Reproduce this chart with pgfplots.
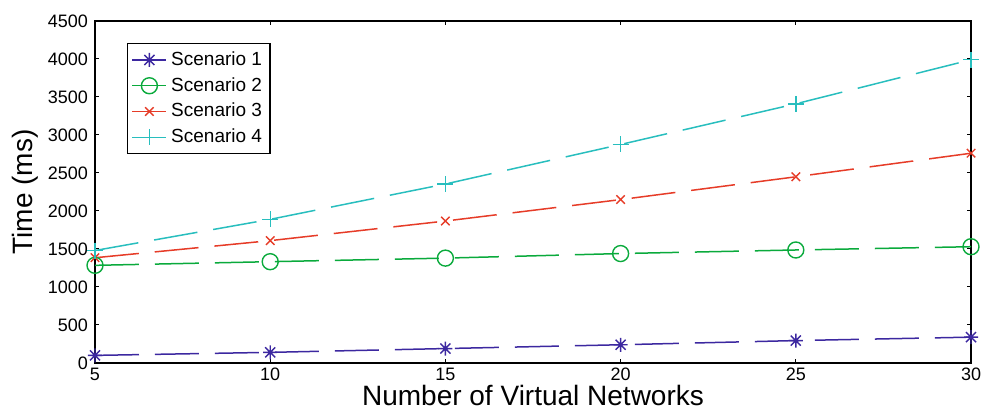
\documentclass[border=0pt]{standalone}
\usepackage{fontspec}
\setmainfont{Liberation Sans}
\usepackage{pgfplots}
\pgfplotsset{compat=1.18}
\definecolor{sone}{RGB}{60,40,160}
\definecolor{stwo}{RGB}{10,170,60}
\definecolor{sthree}{RGB}{230,60,40}
\definecolor{sfour}{RGB}{40,190,190}
\pgfdeclareplotmark{mstar}{%
  \pgfpathmoveto{\pgfqpoint{0pt}{\pgfplotmarksize}}%
  \pgfpathlineto{\pgfqpoint{0pt}{-\pgfplotmarksize}}%
  \pgfpathmoveto{\pgfqpoint{\pgfplotmarksize}{0pt}}%
  \pgfpathlineto{\pgfqpoint{-\pgfplotmarksize}{0pt}}%
  \pgfpathmoveto{\pgfqpoint{0.72\pgfplotmarksize}{0.72\pgfplotmarksize}}%
  \pgfpathlineto{\pgfqpoint{-0.72\pgfplotmarksize}{-0.72\pgfplotmarksize}}%
  \pgfpathmoveto{\pgfqpoint{-0.72\pgfplotmarksize}{0.72\pgfplotmarksize}}%
  \pgfpathlineto{\pgfqpoint{0.72\pgfplotmarksize}{-0.72\pgfplotmarksize}}%
  \pgfusepathqstroke}
\begin{document}
\begin{tikzpicture}
\path[use as bounding box] (-47.5pt,-23.5pt) rectangle (444pt,181.5pt);
\begin{axis}[
  at={(0pt,0pt)}, anchor=south west,
  scale only axis, width=438pt, height=171pt,
  xmin=5, xmax=30, ymin=0, ymax=4500,
  xtick={5,10,15,20,25,30},
  ytick={0,500,1000,1500,2000,2500,3000,3500,4000,4500},
  tick align=inside, major tick length=2pt,
  axis line style={line width=0.6pt},
  every tick/.style={black, line width=0.5pt},
  /pgf/number format/assume math mode=true,
  scaled y ticks=false,
  yticklabel style={/pgf/number format/set thousands separator={}},
  xticklabel style={yshift=1pt},
  tick label style={font=\fontsize{9}{10}\selectfont},
  xlabel={Number of Virtual Networks},
  ylabel={Time (ms)},
  label style={font=\fontsize{14}{16}\selectfont},
  xlabel style={at={(axis description cs:0.5,-0.095)}, anchor=center},
  ylabel style={at={(axis description cs:-0.0708,0.5)}, anchor=base},
  legend style={at={(axis description cs:0.0365,0.9357)}, anchor=north west,
    draw=black, line width=0.6pt, font=\fontsize{9.5}{11}\selectfont,
    inner sep=2pt, row sep=0.5pt},
  legend cell align=left,
  every axis plot/.append style={line width=0.75pt, dash pattern=on 22pt off 8pt},
]
\addplot[color=sone, mark=mstar, mark size=3.5pt, mark options={solid, line width=0.7pt}]
  coordinates {(5,100) (10,140) (15,190) (20,240) (25,295) (30,340)};
\addlegendentry{Scenario 1}
\addplot[color=stwo, mark=o, mark size=4pt, mark options={solid, line width=0.7pt}]
  coordinates {(5,1285) (10,1333) (15,1380) (20,1440) (25,1487) (30,1530)};
\addlegendentry{Scenario 2}
\addplot[color=sthree, mark=x, mark size=3pt, mark options={solid, line width=0.7pt}]
  coordinates {(5,1385) (10,1610) (15,1868) (20,2150) (25,2450) (30,2760)};
\addlegendentry{Scenario 3}
\addplot[color=sfour, mark=+, mark size=4pt, mark options={solid, line width=0.7pt}]
  coordinates {(5,1480) (10,1890) (15,2355) (20,2875) (25,3410) (30,3990)};
\addlegendentry{Scenario 4}
\end{axis}
\end{tikzpicture}
\end{document}
